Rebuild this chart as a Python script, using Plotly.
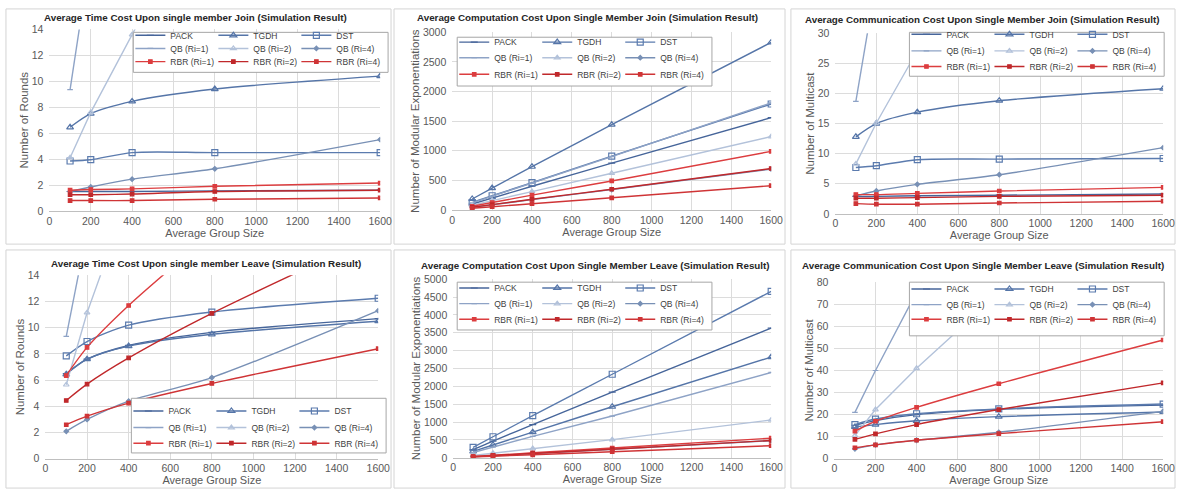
import plotly.graph_objects as go

W, H = 1189, 497

# ---------------- data ----------------
x_sizes = [100, 200, 400, 800, 1600]
x_ticks = [0, 200, 400, 600, 800, 1000, 1200, 1400, 1600]
series_names = ["PACK", "TGDH", "DST", "QB (Ri=1)", "QB (Ri=2)", "QB (Ri=4)",
                "RBR (Ri=1)", "RBR (Ri=2)", "RBR (Ri=4)"]

# Average Time Cost Upon single member Join
time_join_pack = [1.5, 1.5, 1.5, 1.55, 1.6]
time_join_tgdh = [6.45, 7.5, 8.45, 9.4, 10.4]
time_join_dst = [3.85, 3.95, 4.5, 4.5, 4.5]
time_join_qb1 = [9.35, 20.0, 41.0, 83.0, 167.0]
time_join_qb2 = [4.1, 7.6, 13.6, 25.6, 49.6]
time_join_qb4 = [1.5, 1.85, 2.45, 3.25, 5.5]
time_join_rbr1 = [1.6, 1.65, 1.7, 1.9, 2.15]
time_join_rbr2 = [1.25, 1.25, 1.3, 1.5, 1.6]
time_join_rbr4 = [0.8, 0.8, 0.8, 0.9, 1.0]

# Average Computation Cost Upon Single Member Join
comp_join_pack = [100, 200, 400, 790, 1560]
comp_join_tgdh = [185, 370, 730, 1440, 2830]
comp_join_dst = [125, 240, 460, 910, 1790]
comp_join_qb1 = [120, 230, 450, 900, 1810]
comp_join_qb2 = [80, 160, 310, 620, 1240]
comp_join_qb4 = [44, 88, 175, 345, 690]
comp_join_rbr1 = [62, 125, 250, 490, 990]
comp_join_rbr2 = [45, 90, 180, 350, 700]
comp_join_rbr4 = [28, 55, 105, 205, 410]

# Average Communication Cost Upon Single Member Join
comm_join_pack = [2.9, 2.9, 3.0, 3.1, 3.3]
comm_join_tgdh = [12.8, 15.0, 16.9, 18.8, 20.8]
comm_join_dst = [7.7, 8.0, 9.0, 9.1, 9.2]
comm_join_qb1 = [18.7, 39.0, 80.0, 160.0, 320.0]
comm_join_qb2 = [8.3, 15.1, 27.1, 51.0, 99.0]
comm_join_qb4 = [3.0, 3.8, 4.9, 6.5, 11.0]
comm_join_rbr1 = [3.2, 3.2, 3.4, 3.8, 4.4]
comm_join_rbr2 = [2.6, 2.6, 2.7, 2.9, 3.1]
comm_join_rbr4 = [1.7, 1.6, 1.6, 1.8, 2.1]

# Average Time Cost Upon single member Leave
time_leave_pack = [6.5, 7.6, 8.65, 9.65, 10.7]
time_leave_tgdh = [6.45, 7.6, 8.6, 9.5, 10.5]
time_leave_dst = [7.85, 8.95, 10.2, 11.2, 12.25]
time_leave_qb1 = [9.35, 17.4, 33.0, 65.0, 130.0]
time_leave_qb2 = [5.65, 11.15, 20.0, 38.0, 75.0]
time_leave_qb4 = [2.1, 3.0, 4.4, 6.2, 11.3]
time_leave_rbr1 = [6.35, 8.5, 11.7, 17.2, 28.0]
time_leave_rbr2 = [4.45, 5.7, 7.7, 11.1, 17.1]
time_leave_rbr4 = [2.6, 3.25, 4.25, 5.75, 8.4]

# Average Computation Cost Upon Single Member Leave
comp_leave_pack = [230, 470, 930, 1840, 3630]
comp_leave_tgdh = [180, 360, 720, 1430, 2820]
comp_leave_dst = [290, 590, 1180, 2340, 4660]
comp_leave_qb1 = [150, 300, 600, 1170, 2390]
comp_leave_qb2 = [65, 130, 260, 510, 1060]
comp_leave_qb4 = [30, 60, 120, 240, 480]
comp_leave_rbr1 = [35, 70, 140, 275, 550]
comp_leave_rbr2 = [30, 62, 122, 242, 485]
comp_leave_rbr4 = [22, 45, 85, 170, 340]

# Average Communication Cost Upon Single Member Leave
comm_leave_pack = [15.2, 17.3, 20.0, 22.4, 24.3]
comm_leave_tgdh = [14.4, 15.5, 17.2, 19.1, 21.2]
comm_leave_dst = [15.5, 18.0, 20.4, 22.6, 24.8]
comm_leave_qb1 = [21.0, 40.0, 75.5, 147.0, 290.0]
comm_leave_qb2 = [10.5, 22.3, 41.0, 75.0, 160.0]
comm_leave_qb4 = [4.5, 6.3, 8.4, 12.0, 21.5]
comm_leave_rbr1 = [12.5, 17.0, 23.3, 34.0, 53.8]
comm_leave_rbr2 = [8.8, 11.3, 15.5, 22.3, 34.4]
comm_leave_rbr4 = [5.0, 6.3, 8.4, 11.4, 16.8]

panel_series = [
    [time_join_pack, time_join_tgdh, time_join_dst, time_join_qb1, time_join_qb2,
     time_join_qb4, time_join_rbr1, time_join_rbr2, time_join_rbr4],
    [comp_join_pack, comp_join_tgdh, comp_join_dst, comp_join_qb1, comp_join_qb2,
     comp_join_qb4, comp_join_rbr1, comp_join_rbr2, comp_join_rbr4],
    [comm_join_pack, comm_join_tgdh, comm_join_dst, comm_join_qb1, comm_join_qb2,
     comm_join_qb4, comm_join_rbr1, comm_join_rbr2, comm_join_rbr4],
    [time_leave_pack, time_leave_tgdh, time_leave_dst, time_leave_qb1, time_leave_qb2,
     time_leave_qb4, time_leave_rbr1, time_leave_rbr2, time_leave_rbr4],
    [comp_leave_pack, comp_leave_tgdh, comp_leave_dst, comp_leave_qb1, comp_leave_qb2,
     comp_leave_qb4, comp_leave_rbr1, comp_leave_rbr2, comp_leave_rbr4],
    [comm_leave_pack, comm_leave_tgdh, comm_leave_dst, comm_leave_qb1, comm_leave_qb2,
     comm_leave_qb4, comm_leave_rbr1, comm_leave_rbr2, comm_leave_rbr4],
]

panel_titles = [
    "Average Time Cost Upon single member Join (Simulation Result)",
    "Average Computation Cost Upon Single Member Join (Simulation Result)",
    "Average Communication Cost Upon Single Member Join (Simulation Result)",
    "Average Time Cost Upon single member Leave (Simulation Result)",
    "Average Computation Cost Upon Single Member Leave (Simulation Result)",
    "Average Communication Cost Upon Single Member Leave (Simulation Result)",
]
y_titles = ["Number of Rounds", "Number of Modular Exponentiations", "Number of Multicast",
            "Number of Rounds", "Number of Modular Exponentiations", "Number of Multicast"]
x_title = "Average Group Size"
y_ranges = [[0, 14], [0, 3000], [0, 30], [0, 14], [0, 5000], [0, 80]]
y_dticks = [2, 500, 5, 2, 500, 10]

# ---------------- styles / layout (pixel positions) ----------------
styles = [
    dict(color="#46659a", symbol="line-ew-open", size=5, shape="spline"),
    dict(color="#5575a8", symbol="triangle-up-open", size=6, shape="spline"),
    dict(color="#5b7bae", symbol="square-open", size=6, shape="spline"),
    dict(color="#8ea3c6", symbol="line-ew-open", size=4, shape="linear"),
    dict(color="#b3c2da", symbol="triangle-up-open", size=5, shape="linear"),
    dict(color="#7890b5", symbol="diamond", size=3.5, shape="spline"),
    dict(color="#dc3d3f", symbol="square", size=3.5, shape="spline"),
    dict(color="#c0282b", symbol="square", size=3.5, shape="spline"),
    dict(color="#cf3436", symbol="square", size=3.5, shape="spline"),
]

LEG_W = 258
panels = [
    dict(xd=(47, 382), yd=(210, 24), frame=(3, 3, 393, 244), tpos=(195, 12),
         lbox=(390 - LEG_W, 27, 390, 68), rows=(30, 43.5, 57)),
    dict(xd=(455, 778), yd=(209, 27), frame=(396, 3, 792, 244), tpos=(592, 12),
         lbox=(460, 32, 460 + LEG_W, 82), rows=(37, 53, 70)),
    dict(xd=(843, 1175), yd=(213, 28), frame=(798, 3, 1187, 244), tpos=(992, 14),
         lbox=(1176 - LEG_W, 27, 1176, 72), rows=(29, 46, 62)),
    dict(xd=(43, 380), yd=(464, 276), frame=(3, 250, 393, 494), tpos=(206, 264),
         lbox=(388 - LEG_W, 402, 388, 458), rows=(415, 432, 448)),
    dict(xd=(456, 778), yd=(463, 280), frame=(396, 250, 792, 494), tpos=(600, 266),
         lbox=(460, 283, 460 + LEG_W, 332), rows=(289, 305, 321)),
    dict(xd=(842, 1175), yd=(464, 283), frame=(798, 250, 1187, 494), tpos=(993, 266),
         lbox=(1176 - LEG_W, 283, 1176, 338), rows=(290, 306, 321)),
]


def px(v):
    return v / W


def py(v):
    return 1 - v / H


fig = go.Figure()
layout = dict(
    width=W, height=H, margin=dict(l=0, r=0, t=0, b=0),
    paper_bgcolor="white", plot_bgcolor="white",
    font=dict(family="Arial, Liberation Sans, sans-serif", color="#595959"),
    shapes=[], annotations=[],
)

for p, panel in enumerate(panels):
    k = "" if p == 0 else str(p + 1)
    xa, ya = "x" + k, "y" + k
    layout["xaxis" + k] = dict(
        domain=[px(panel["xd"][0]), px(panel["xd"][1])], range=[0, 1600],
        tickvals=x_ticks, ticktext=[str(t) for t in x_ticks],
        showgrid=True, gridcolor="#dcdcdc", gridwidth=1,
        showline=True, linecolor="#bfbfbf", linewidth=1, zeroline=False,
        ticks="", tickfont=dict(size=10.5, color="#595959"), anchor=ya,
        title=dict(text=x_title, font=dict(size=11, color="#595959"), standoff=0),
        fixedrange=True,
    )
    layout["yaxis" + k] = dict(
        domain=[py(panel["yd"][0]), py(panel["yd"][1])], range=y_ranges[p],
        dtick=y_dticks[p], tick0=0,
        showgrid=True, gridcolor="#dcdcdc", gridwidth=1,
        showline=False, zeroline=False, ticks="",
        tickfont=dict(size=10.5, color="#595959"), anchor=xa,
        ticklabelstandoff=5,
        title=dict(text=y_titles[p], font=dict(size=11.5, color="#595959"), standoff=0),
        fixedrange=True,
    )
    # panel frame
    f = panel["frame"]
    layout["shapes"].append(dict(type="rect", xref="paper", yref="paper",
                                 x0=px(f[0]), x1=px(f[2]), y0=py(f[3]), y1=py(f[1]),
                                 line=dict(color="#d4d4d4", width=1), layer="below"))
    # legend box
    b = panel["lbox"]
    layout["shapes"].append(dict(type="rect", xref="paper", yref="paper",
                                 x0=px(b[0]), x1=px(b[2]), y0=py(b[3]), y1=py(b[1]),
                                 line=dict(color="#a6a6a6", width=1), fillcolor="white",
                                 layer="above"))
    # title
    layout["annotations"].append(dict(
        text="<b>" + panel_titles[p] + "</b>", xref="paper", yref="paper",
        x=px(panel["tpos"][0]), y=py(panel["tpos"][1]), xanchor="center", yanchor="middle",
        showarrow=False, font=dict(size=9.8, color="#262626")))

    for s in range(9):
        st = styles[s]
        leg_idx = 3 * p + s // 3 + 1
        leg = "legend" if leg_idx == 1 else "legend" + str(leg_idx)
        extra = {"legendwidth": 46} if s % 3 == 2 else {}
        fig.add_trace(go.Scatter(
            x=x_sizes, y=panel_series[p][s], name=series_names[s],
            mode="lines+markers", xaxis=xa, yaxis=ya, legend=leg,
            line=dict(color=st["color"], width=1.4, shape=st["shape"], smoothing=0.8),
            marker=dict(symbol=st["symbol"], size=st["size"], color=st["color"],
                        line=dict(color=st["color"], width=1.2)),
            cliponaxis=True, **extra,
        ))
    for r in range(3):
        leg_idx = 3 * p + r + 1
        leg = "legend" if leg_idx == 1 else "legend" + str(leg_idx)
        layout[leg] = dict(
            orientation="h", x=px(b[0] - 3), y=py(panel["rows"][r]),
            xanchor="left", yanchor="middle", bgcolor="rgba(0,0,0,0)",
            borderwidth=0, entrywidth=38, entrywidthmode="pixels",
            font=dict(size=8.5, color="#404040"), itemclick=False, itemdoubleclick=False,
            tracegroupgap=0,
        )

fig.update_layout(**layout)
fig.write_html("out.html", config={"displayModeBar": False},
               post_script="document.body.style.margin='0';document.body.style.padding='0';")
